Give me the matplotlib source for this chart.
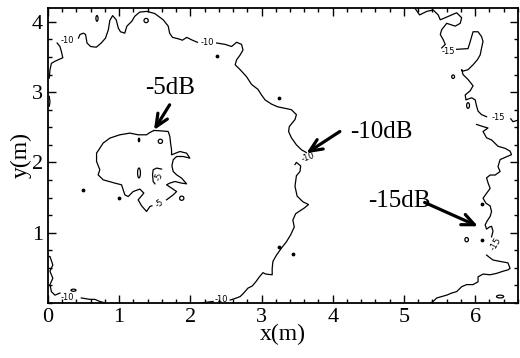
import numpy as np
import matplotlib.pyplot as plt
from matplotlib.patches import Ellipse

plt.rcParams['font.family'] = ['Liberation Serif', 'DejaVu Serif']

# ---- contour traces (x, y in metres) ----
# -10 dB, big arc (top-left piece, before the first "-10" label)
c10a_x = [0.02, 0.03, 0.05, 0.10, 0.21, 0.19, 0.17, 0.13]
c10a_y = [3.20, 3.32, 3.41, 3.44, 3.49, 3.58, 3.65, 3.70]
# -10 dB, top run between the two labels
c10b_x = [0.43, 0.45, 0.50, 0.53, 0.55, 0.60, 0.68, 0.75, 0.81, 0.85, 0.87, 0.91,
          0.96, 0.99, 1.02, 1.08, 1.11, 1.18, 1.22, 1.29, 1.39, 1.50, 1.62, 1.69,
          1.71, 1.75, 1.83, 1.89, 1.95, 2.03, 2.10]
c10b_y = [3.77, 3.82, 3.84, 3.82, 3.70, 3.65, 3.64, 3.70, 3.77, 3.89, 4.02, 4.09,
          4.03, 3.91, 3.86, 3.84, 3.94, 4.01, 4.08, 4.14, 4.15, 4.12, 4.03, 3.94,
          3.84, 3.78, 3.76, 3.74, 3.78, 3.74, 3.71]
# -10 dB, right-hand descent down to the arrow
c10c_x = [2.37, 2.49, 2.58, 2.65, 2.72, 2.74, 2.70, 2.65, 2.63, 2.70, 2.79, 2.86,
          2.95, 3.00, 3.05, 3.14, 3.23, 3.33, 3.42, 3.49, 3.47, 3.39, 3.38, 3.42,
          3.49, 3.56, 3.63]
c10c_y = [3.70, 3.68, 3.65, 3.71, 3.68, 3.60, 3.53, 3.46, 3.39, 3.32, 3.22, 3.11,
          3.04, 2.96, 2.89, 2.83, 2.79, 2.77, 2.75, 2.68, 2.61, 2.51, 2.44, 2.35,
          2.25, 2.18, 2.14]
# -10 dB, below the middle label down to the bottom axis
c10d_x = [3.47, 3.49, 3.55, 3.54, 3.49, 3.47, 3.50, 3.58, 3.66, 3.60, 3.48, 3.44,
          3.46, 3.41, 3.35, 3.28, 3.21, 3.16, 3.15, 3.15, 3.06, 3.02, 2.97, 2.92,
          2.87, 2.81, 2.75, 2.70, 2.65, 2.56]
c10d_y = [1.97, 2.00, 1.95, 1.87, 1.81, 1.66, 1.52, 1.44, 1.40, 1.35, 1.27, 1.18,
          1.08, 0.97, 0.87, 0.78, 0.68, 0.59, 0.49, 0.40, 0.41, 0.43, 0.37, 0.30,
          0.24, 0.21, 0.14, 0.09, 0.07, 0.04]
c10e_x = [2.32, 2.16]
c10e_y = [0.02, 0.00]
# -10 dB, bottom-left corner
c10f_x = [0.02, 0.03, 0.07, 0.03, 0.07, 0.03, 0.05, 0.10, 0.17]
c10f_y = [0.66, 0.66, 0.54, 0.45, 0.35, 0.26, 0.16, 0.11, 0.14]
c10g_x = [0.47, 0.59, 0.66, 0.73, 0.80]
c10g_y = [0.07, 0.05, 0.05, 0.02, 0.00]
c10h_x = [0.02, 0.03, 0.02]
c10h_y = [2.94, 2.86, 2.80]

# -5 dB blob
c5_x = [1.489, 1.573, 1.690, 1.713, 1.723, 1.737, 1.737, 1.854, 1.948, 1.994,
        1.900, 1.808, 1.760, 1.742, 1.760, 1.808, 1.878, 1.948, 1.878, 1.784,
        1.713, 1.667, 1.737, 1.808, 1.760, 1.667]
c5_y = [2.454, 2.450, 2.440, 2.369, 2.275, 2.179, 2.108, 2.155, 2.132, 2.061,
        2.084, 2.084, 2.037, 1.952, 1.870, 1.823, 1.776, 1.695, 1.705, 1.728,
        1.705, 1.681, 1.634, 1.585, 1.538, 1.467]
c5b_x = [1.461, 1.433, 1.386, 1.316, 1.268, 1.348, 1.292, 1.198, 1.128, 1.081,
         1.035, 0.941, 0.777, 0.706, 0.730, 0.684, 0.684, 0.777, 0.871, 1.011,
         1.152, 1.268, 1.386, 1.433, 1.489]
c5b_y = [1.382, 1.372, 1.301, 1.382, 1.467, 1.563, 1.620, 1.585, 1.514, 1.538,
         1.681, 1.705, 1.752, 1.823, 1.895, 2.013, 2.132, 2.275, 2.346, 2.393,
         2.417, 2.393, 2.393, 2.426, 2.454]
c5c_x = [1.597, 1.527, 1.479, 1.470, 1.479, 1.503]
c5c_y = [1.905, 1.919, 1.895, 1.823, 1.728, 1.695]

# -15 dB, upper right
c15a_x = [5.15, 5.22, 5.32, 5.41, 5.48, 5.51, 5.58, 5.67, 5.74, 5.81, 5.79, 5.72,
          5.60, 5.53, 5.51, 5.55, 5.58, 5.53]
c15a_y = [4.20, 4.10, 4.15, 4.17, 4.10, 4.03, 4.06, 4.10, 4.13, 4.06, 3.98, 3.94,
          3.98, 3.89, 3.82, 3.75, 3.68, 3.63]
c15b_x = [5.74, 5.90, 5.93, 5.95, 5.97, 6.04, 6.09, 6.11, 6.09, 6.07, 6.03, 5.97,
          5.90, 5.83, 5.81, 5.83, 5.90, 5.97, 5.93, 5.86, 5.87, 5.95, 6.00, 6.02,
          6.04, 6.09, 6.16]
c15b_y = [3.61, 3.62, 3.72, 3.79, 3.86, 3.86, 3.79, 3.72, 3.63, 3.53, 3.46, 3.39,
          3.32, 3.30, 3.32, 3.25, 3.18, 3.09, 3.02, 2.96, 2.89, 2.92, 2.89, 2.80,
          2.73, 2.68, 2.65]
c15c_x = [6.50, 6.53, 6.60]
c15c_y = [2.62, 2.58, 2.60]
# -15 dB, lower right
c15d_x = [6.02, 6.11, 6.18, 6.11, 6.16, 6.23, 6.28, 6.32, 6.42, 6.49, 6.51, 6.44,
          6.35, 6.32, 6.35, 6.28, 6.21, 6.16, 6.18, 6.21, 6.16, 6.11, 6.15, 6.21,
          6.23, 6.21, 6.17, 6.14, 6.16, 6.20, 6.23, 6.25, 6.23]
c15d_y = [2.54, 2.51, 2.49, 2.44, 2.35, 2.32, 2.27, 2.23, 2.20, 2.16, 2.11, 2.08,
          2.04, 1.94, 1.87, 1.82, 1.82, 1.78, 1.71, 1.63, 1.56, 1.49, 1.42, 1.38,
          1.30, 1.23, 1.17, 1.11, 1.05, 1.08, 1.09, 1.02, 0.94]
c15e_x = [6.16, 6.21, 6.25, 6.35, 6.46, 6.49, 6.46, 6.39, 6.30, 6.21, 6.11, 6.04,
          6.04, 5.97, 5.88, 5.81, 5.74, 5.67, 5.60, 5.53, 5.46, 5.41, 5.37]
c15e_y = [0.68, 0.64, 0.61, 0.59, 0.57, 0.49, 0.47, 0.45, 0.42, 0.40, 0.41, 0.37,
          0.30, 0.26, 0.26, 0.23, 0.16, 0.14, 0.11, 0.09, 0.07, 0.02, 0.00]

contours = [(c10a_x, c10a_y), (c10b_x, c10b_y), (c10c_x, c10c_y), (c10d_x, c10d_y),
            (c10e_x, c10e_y), (c10f_x, c10f_y), (c10g_x, c10g_y), (c10h_x, c10h_y),
            (c5_x, c5_y), (c5b_x, c5b_y), (c5c_x, c5c_y),
            (c15a_x, c15a_y), (c15b_x, c15b_y), (c15c_x, c15c_y),
            (c15d_x, c15d_y), (c15e_x, c15e_y)]

# tiny closed loops: centre x, centre y, width, height
loop_x = [0.69, 1.38, 1.28, 1.58, 1.28, 1.88, 0.36, 5.69, 5.90, 5.88, 6.35]
loop_y = [4.05, 4.02, 2.32, 2.30, 1.85, 1.49, 0.18, 3.22, 2.81, 0.90, 0.09]
loop_w = [0.03, 0.06, 0.02, 0.06, 0.04, 0.06, 0.07, 0.04, 0.04, 0.05, 0.10]
loop_h = [0.08, 0.06, 0.05, 0.06, 0.14, 0.06, 0.03, 0.05, 0.08, 0.06, 0.04]

# isolated dots
dot_x = [2.37, 3.25, 0.50, 1.00, 3.24, 3.44, 6.09, 6.09]
dot_y = [3.51, 2.91, 1.60, 1.49, 0.79, 0.69, 1.41, 0.90]

# inline contour labels: text, x, y, rotation
clab_text = ['-10', '-10', '-10', '-10', '-10', '-5', '-5', '-15', '-15', '-15']
clab_x = [0.28, 2.24, 3.66, 2.44, 0.27, 1.57, 1.56, 5.63, 6.33, 6.29]
clab_y = [3.73, 3.71, 2.07, 0.05, 0.07, 1.42, 1.80, 3.58, 2.64, 0.84]
clab_rot = [0, 0, 20, 0, 0, 35, 75, 0, 0, 60]

# annotations: text, text centre, arrow tail, arrow tip
ann_text = ['-5dB', '-10dB', '-15dB']
ann_pos = [(1.71, 3.06), (4.68, 2.43), (4.93, 1.45)]
ann_tail = [(1.71, 2.82), (4.10, 2.44), (5.29, 1.43)]
ann_tip = [(1.49, 2.46), (3.63, 2.13), (6.04, 1.09)]

fig, ax = plt.subplots(figsize=(5.2, 3.58), dpi=100)
fig.subplots_adjust(left=0.092, right=0.996, bottom=0.154, top=0.978)

for cx, cy in contours:
    ax.plot(cx, cy, color='black', lw=0.9)

for ex, ey, ew, eh in zip(loop_x, loop_y, loop_w, loop_h):
    ax.add_patch(Ellipse((ex, ey), ew, eh, fill=False, ec='black', lw=0.9))

ax.scatter(dot_x, dot_y, s=3, color='black', zorder=3)

for t, lx, ly, r in zip(clab_text, clab_x, clab_y, clab_rot):
    ax.text(lx, ly, t, fontsize=6, family='DejaVu Sans', rotation=r,
            ha='center', va='center')

for t, pos, tail, tip in zip(ann_text, ann_pos, ann_tail, ann_tip):
    ax.text(pos[0], pos[1], t, fontsize=18, ha='center', va='center')
    ax.annotate('', xy=tip, xytext=tail,
                arrowprops=dict(arrowstyle='->,head_length=0.9,head_width=0.4',
                                color='black', lw=2.3, shrinkA=0, shrinkB=0))

ax.set_xlim(0, 6.6)
ax.set_ylim(0, 4.2)
ax.set_xticks([0, 1, 2, 3, 4, 5, 6])
ax.set_xticks(np.arange(0, 6.61, 0.2), minor=True)
ax.set_yticks([1, 2, 3, 4])
ax.set_yticks(np.arange(0, 4.21, 0.25), minor=True)
ax.tick_params(which='both', direction='in', top=True, right=True, labelsize=16)
ax.tick_params(which='major', length=6, width=1)
ax.tick_params(which='minor', length=3, width=1)
for s in ax.spines.values():
    s.set_linewidth(1.3)

ax.set_xlabel('x(m)', fontsize=17, labelpad=-2)
ax.set_ylabel('y(m)', fontsize=17, labelpad=0)

fig.savefig('out.png', dpi=100)
